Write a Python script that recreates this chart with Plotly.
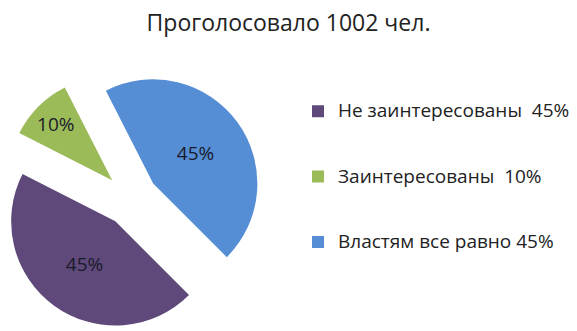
import plotly.graph_objects as go

title_text = "Проголосовало 1002 чел."
labels = ["Не заинтересованы  45%", "Заинтересованы  10%", "Властям все равно 45%"]
values = [45, 10, 45]
colors = ["#5F497A", "#9BBB59", "#558ED5"]
pulls = [0.26, 0.26, 0.26]

legend_labels = [" <br><span style='font-size:19px'>" + l + "</span><br> " for l in labels]

fig = go.Figure(go.Pie(
    labels=legend_labels,
    values=values,
    sort=False,
    direction="clockwise",
    rotation=135,
    pull=pulls,
    marker=dict(colors=colors, line=dict(width=0)),
    textinfo="percent",
    texttemplate="%{percent:.0%}",
    textposition="inside",
    insidetextorientation="horizontal",
    insidetextfont=dict(family="Open Sans", size=19, color="#1a1a2a"),
    domain=dict(x=[0.0, 0.455], y=[0.0, 0.795]),
    hoverinfo="skip",
))

fig.update_layout(
    width=577, height=331,
    margin=dict(l=0, r=0, t=0, b=0),
    paper_bgcolor="white",
    plot_bgcolor="white",
    title=dict(text=title_text, x=0.5, xanchor="center", y=1 - 23 / 331, yanchor="middle",
               yref="container", font=dict(family="Open Sans", size=23, color="#222222")),
    showlegend=True,
    legend=dict(x=298 / 577, xanchor="left", y=1 - 177 / 331, yanchor="middle",
                font=dict(family="Open Sans", size=16, color="#222222"),
                itemclick=False, itemdoubleclick=False, valign="middle",
                bgcolor="rgba(0,0,0,0)"),
)

fig.write_html("out.html")
